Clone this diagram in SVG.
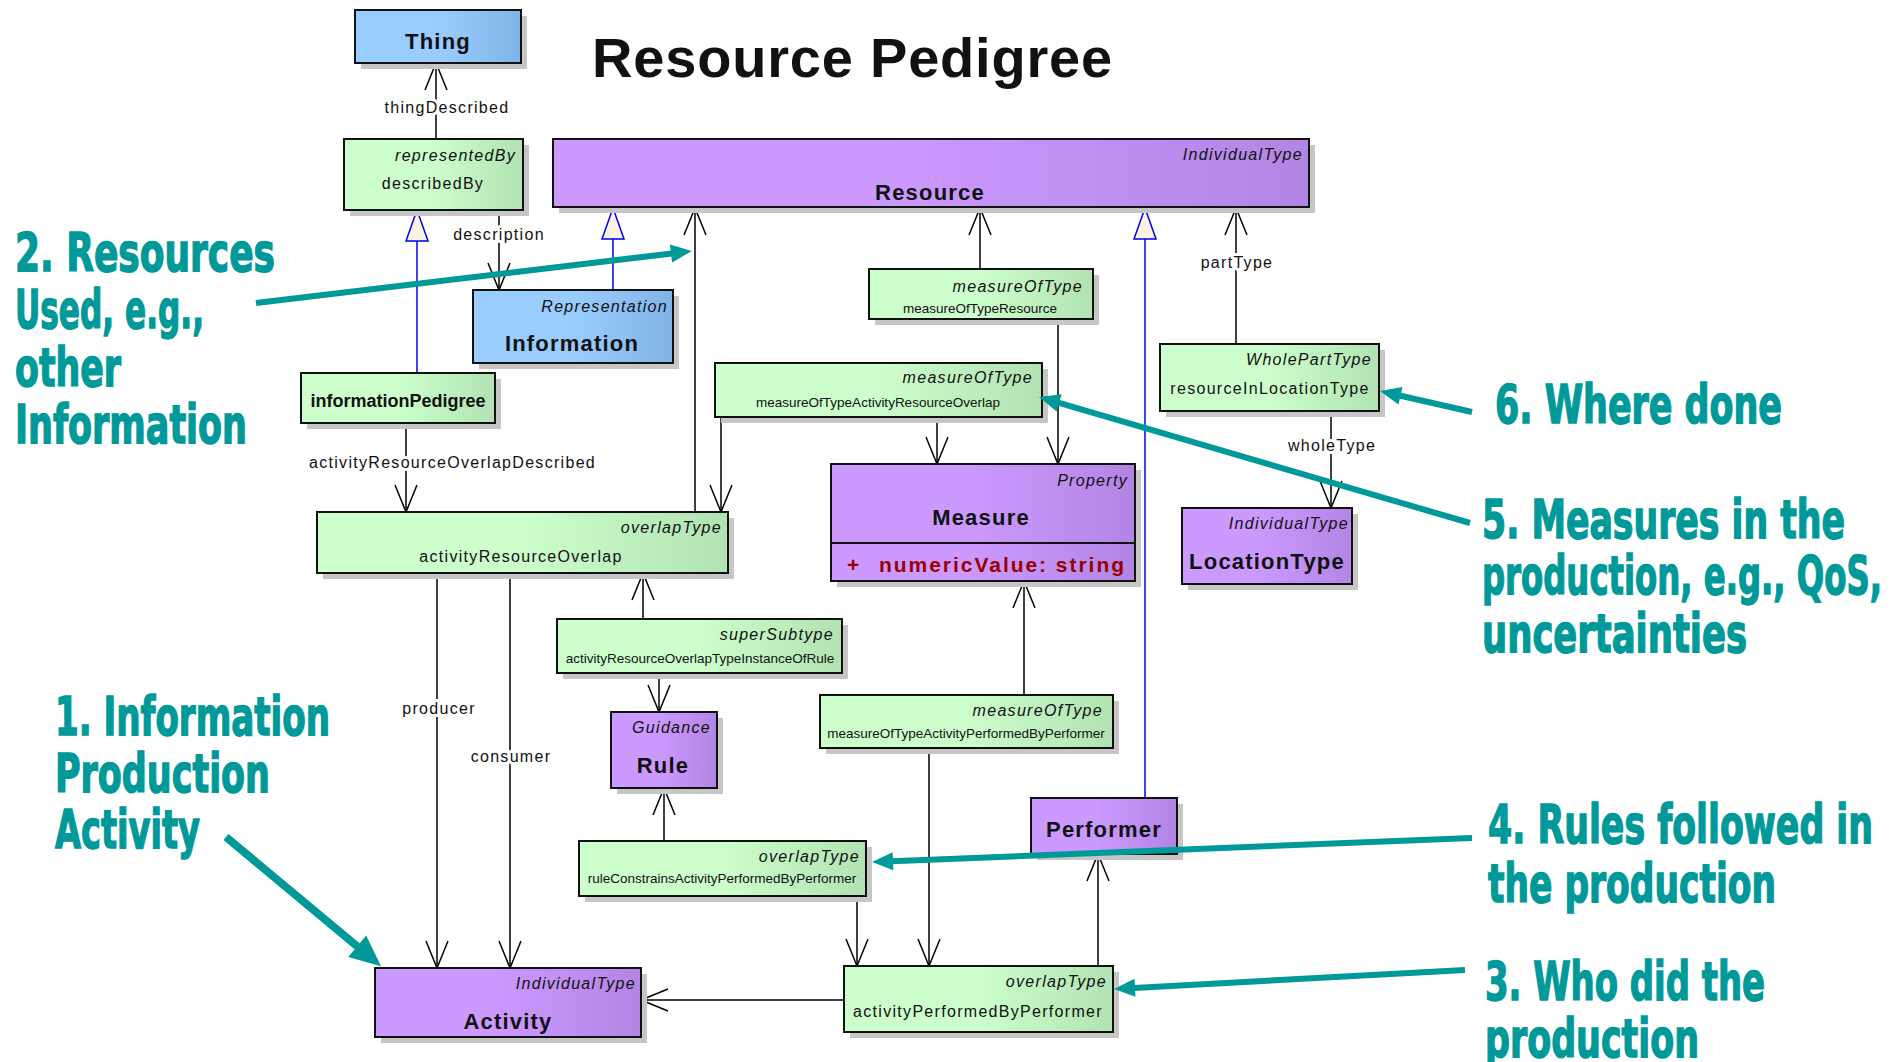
<svg xmlns="http://www.w3.org/2000/svg" width="1902" height="1062" viewBox="0 0 1902 1062">
<style>
text{font-family:"Liberation Sans",Arial,sans-serif;fill:#111}
.box{stroke:#111;stroke-width:2}
.sh{fill:#c6c6c6}
.st{font-style:italic;font-size:16px;letter-spacing:1.3px;text-anchor:end}
.nm{font-size:16px;letter-spacing:1.3px;text-anchor:middle}
.sm{font-size:13.5px;text-anchor:middle}
.bd{font-weight:bold;font-size:22px;letter-spacing:1.2px;text-anchor:middle}
.lbl{font-size:16px;letter-spacing:1.3px;text-anchor:middle;stroke:#fff;stroke-width:6px;paint-order:stroke;stroke-linejoin:round}
.co{fill:#009999;stroke:#009999;stroke-width:1.4px;font-family:"Liberation Sans Narrow","DejaVu Sans Condensed","Liberation Sans",sans-serif;font-weight:bold;font-size:53px}
.ln{stroke:#000;stroke-width:1.5;fill:none}
.gen{stroke:#0000ee;stroke-width:1.5;fill:none}
.tl{stroke:#009999;stroke-width:6;fill:none}
</style>
<defs>
<linearGradient id="gG"><stop offset="0" stop-color="#ccffcc"/><stop offset="0.5" stop-color="#ccffcc"/><stop offset="1" stop-color="#b2e2b2"/></linearGradient>
<linearGradient id="gP"><stop offset="0" stop-color="#cc99ff"/><stop offset="0.45" stop-color="#cc99ff"/><stop offset="1" stop-color="#b285e4"/></linearGradient>
<linearGradient id="gB"><stop offset="0" stop-color="#99ccff"/><stop offset="0.5" stop-color="#99ccff"/><stop offset="1" stop-color="#80b3e6"/></linearGradient>
<marker id="open" markerUnits="userSpaceOnUse" viewBox="-30 -14 32 28" refX="0" refY="0" markerWidth="32" markerHeight="28" orient="auto"><path d="M-27,-11 L0,0 L-27,11" fill="none" stroke="#000" stroke-width="1.5"/></marker>
<marker id="gen" markerUnits="userSpaceOnUse" viewBox="-34 -14 36 28" refX="0" refY="0" markerWidth="36" markerHeight="28" orient="auto"><path d="M-31,-11 L0,0 L-31,11 Z" fill="#fbf2e3" stroke="#0000ee" stroke-width="1.5"/></marker>
<marker id="tsm" markerUnits="userSpaceOnUse" viewBox="-2 -10 24 20" refX="0" refY="0" markerWidth="24" markerHeight="20" orient="auto"><path d="M-1,-9 L20,0 L-1,9 Z" fill="#009999"/></marker>
<marker id="tlg" markerUnits="userSpaceOnUse" viewBox="-2 -15 34 30" refX="0" refY="0" markerWidth="34" markerHeight="30" orient="auto"><path d="M-1,-14 L30,0 L-1,14 Z" fill="#009999"/></marker>
</defs>
<rect width="1902" height="1062" fill="#fff"/>

<text x="592" y="77" style="font-weight:bold;font-size:56px;letter-spacing:0.8px">Resource Pedigree</text>

<g id="connectors">
<line class="ln" x1="436" y1="139" x2="436" y2="63" marker-end="url(#open)"/>
<text class="lbl" x="447" y="113">thingDescribed</text>
<line class="ln" x1="499" y1="210" x2="499" y2="290" marker-end="url(#open)"/>
<text class="lbl" x="499" y="240">description</text>
<line class="gen" x1="417" y1="373" x2="417" y2="210" marker-end="url(#gen)"/>
<line class="gen" x1="613" y1="290" x2="613" y2="208" marker-end="url(#gen)"/>
<line class="ln" x1="695" y1="512" x2="695" y2="208" marker-end="url(#open)"/>
<line class="ln" x1="980" y1="269" x2="980" y2="208" marker-end="url(#open)"/>
<line class="ln" x1="1058" y1="319" x2="1058" y2="464" marker-end="url(#open)"/>
<line class="ln" x1="721" y1="417" x2="721" y2="512" marker-end="url(#open)"/>
<line class="ln" x1="937" y1="417" x2="937" y2="464" marker-end="url(#open)"/>
<line class="ln" x1="406" y1="423" x2="406" y2="512" marker-end="url(#open)"/>
<text class="lbl" x="309" y="468" style="text-anchor:start">activityResourceOverlapDescribed</text>
<line class="gen" x1="1145" y1="798" x2="1145" y2="208" marker-end="url(#gen)"/>
<line class="ln" x1="1236" y1="344" x2="1236" y2="208" marker-end="url(#open)"/>
<text class="lbl" x="1237" y="268">partType</text>
<line class="ln" x1="1331" y1="411" x2="1331" y2="508" marker-end="url(#open)"/>
<text class="lbl" x="1332" y="451">wholeType</text>
<line class="ln" x1="437" y1="573" x2="437" y2="968" marker-end="url(#open)"/>
<text class="lbl" x="439" y="714">producer</text>
<line class="ln" x1="510" y1="573" x2="510" y2="968" marker-end="url(#open)"/>
<text class="lbl" x="511" y="762">consumer</text>
<line class="ln" x1="643" y1="619" x2="643" y2="573" marker-end="url(#open)"/>
<line class="ln" x1="659" y1="673" x2="659" y2="712" marker-end="url(#open)"/>
<line class="ln" x1="664" y1="841" x2="664" y2="788" marker-end="url(#open)"/>
<line class="ln" x1="857" y1="896" x2="857" y2="966" marker-end="url(#open)"/>
<line class="ln" x1="1024" y1="695" x2="1024" y2="581" marker-end="url(#open)"/>
<line class="ln" x1="929" y1="748" x2="929" y2="966" marker-end="url(#open)"/>
<line class="ln" x1="1098" y1="966" x2="1098" y2="854" marker-end="url(#open)"/>
<line class="ln" x1="844" y1="1000" x2="641" y2="1000" marker-end="url(#open)"/>
</g>

<g id="Thing">
<rect class="sh" x="361" y="16" width="166" height="53"/>
<rect class="box" x="355" y="10" width="166" height="53" fill="url(#gB)"/>
<text class="bd" x="438" y="49">Thing</text>
</g>
<g id="describedBy">
<rect class="sh" x="350" y="145" width="179" height="71"/>
<rect class="box" x="344" y="139" width="179" height="71" fill="url(#gG)"/>
<text class="st" x="516" y="161">representedBy</text>
<text class="nm" x="433" y="189">describedBy</text>
</g>
<g id="Resource">
<rect class="sh" x="559" y="145" width="756" height="68"/>
<rect class="box" x="553" y="139" width="756" height="68" fill="url(#gP)"/>
<text class="st" x="1303" y="160">IndividualType</text>
<text class="bd" x="930" y="200">Resource</text>
</g>
<g id="Information">
<rect class="sh" x="479" y="296" width="200" height="73"/>
<rect class="box" x="473" y="290" width="200" height="73" fill="url(#gB)"/>
<text class="st" x="668" y="312">Representation</text>
<text class="bd" x="572" y="351">Information</text>
</g>
<g id="informationPedigree">
<rect class="sh" x="307" y="379" width="194" height="50"/>
<rect class="box" x="301" y="373" width="194" height="50" fill="url(#gG)"/>
<text x="398" y="407" style="font-weight:bold;font-size:18px;text-anchor:middle">informationPedigree</text>
</g>
<g id="measureOfTypeResource">
<rect class="sh" x="875" y="275" width="224" height="50"/>
<rect class="box" x="869" y="269" width="224" height="50" fill="url(#gG)"/>
<text class="st" x="1083" y="292">measureOfType</text>
<text class="sm" x="980" y="313">measureOfTypeResource</text>
</g>
<g id="measureOfTypeActivityResourceOverlap">
<rect class="sh" x="721" y="369" width="327" height="54"/>
<rect class="box" x="715" y="363" width="327" height="54" fill="url(#gG)"/>
<text class="st" x="1033" y="383">measureOfType</text>
<text class="sm" x="878" y="407">measureOfTypeActivityResourceOverlap</text>
</g>
<g id="resourceInLocationType">
<rect class="sh" x="1166" y="350" width="219" height="67"/>
<rect class="box" x="1160" y="344" width="219" height="67" fill="url(#gG)"/>
<text class="st" x="1372" y="365">WholePartType</text>
<text class="nm" x="1270" y="394">resourceInLocationType</text>
</g>
<g id="Measure">
<rect class="sh" x="837" y="470" width="304" height="117"/>
<rect class="box" x="831" y="464" width="304" height="117" fill="url(#gP)"/>
<line x1="831" y1="543" x2="1135" y2="543" stroke="#111" stroke-width="2"/>
<text class="st" x="1128" y="486">Property</text>
<text class="bd" x="981" y="525">Measure</text>
<text x="847" y="572" style="font-weight:bold;font-size:21px;fill:#990000">+</text>
<text x="879" y="572" textLength="245" style="font-weight:bold;font-size:21px;fill:#990000">numericValue: string</text>
</g>
<g id="LocationType">
<rect class="sh" x="1188" y="514" width="170" height="76"/>
<rect class="box" x="1182" y="508" width="170" height="76" fill="url(#gP)"/>
<text class="st" x="1349" y="529">IndividualType</text>
<text class="bd" x="1267" y="569">LocationType</text>
</g>
<g id="activityResourceOverlap">
<rect class="sh" x="323" y="518" width="411" height="61"/>
<rect class="box" x="317" y="512" width="411" height="61" fill="url(#gG)"/>
<text class="st" x="722" y="533">overlapType</text>
<text class="nm" x="521" y="562">activityResourceOverlap</text>
</g>
<g id="activityResourceOverlapTypeInstanceOfRule">
<rect class="sh" x="563" y="625" width="285" height="54"/>
<rect class="box" x="557" y="619" width="285" height="54" fill="url(#gG)"/>
<text class="st" x="834" y="640">superSubtype</text>
<text class="sm" x="700" y="663">activityResourceOverlapTypeInstanceOfRule</text>
</g>
<g id="Rule">
<rect class="sh" x="617" y="718" width="106" height="76"/>
<rect class="box" x="611" y="712" width="106" height="76" fill="url(#gP)"/>
<text class="st" x="711" y="733">Guidance</text>
<text class="bd" x="663" y="773">Rule</text>
</g>
<g id="measureOfTypeActivityPerformedByPerformer">
<rect class="sh" x="826" y="701" width="293" height="53"/>
<rect class="box" x="820" y="695" width="293" height="53" fill="url(#gG)"/>
<text class="st" x="1103" y="716">measureOfType</text>
<text class="sm" x="966" y="738">measureOfTypeActivityPerformedByPerformer</text>
</g>
<g id="Performer">
<rect class="sh" x="1037" y="804" width="146" height="56"/>
<rect class="box" x="1031" y="798" width="146" height="56" fill="url(#gP)"/>
<text class="bd" x="1104" y="837">Performer</text>
</g>
<g id="ruleConstrainsActivityPerformedByPerformer">
<rect class="sh" x="585" y="847" width="287" height="55"/>
<rect class="box" x="579" y="841" width="287" height="55" fill="url(#gG)"/>
<text class="st" x="860" y="862">overlapType</text>
<text class="sm" x="722" y="883">ruleConstrainsActivityPerformedByPerformer</text>
</g>
<g id="activityPerformedByPerformer">
<rect class="sh" x="850" y="972" width="269" height="66"/>
<rect class="box" x="844" y="966" width="269" height="66" fill="url(#gG)"/>
<text class="st" x="1107" y="987">overlapType</text>
<text class="nm" x="978" y="1017">activityPerformedByPerformer</text>
</g>
<g id="Activity">
<rect class="sh" x="381" y="974" width="266" height="69"/>
<rect class="box" x="375" y="968" width="266" height="69" fill="url(#gP)"/>
<text class="st" x="636" y="989">IndividualType</text>
<text class="bd" x="508" y="1029">Activity</text>
</g>

<g id="callouts">
<line class="tl" x1="226" y1="837" x2="358" y2="947" style="stroke-width:8" marker-end="url(#tlg)"/>
<line class="tl" x1="256" y1="303" x2="672" y2="253.4" marker-end="url(#tsm)"/>
<line class="tl" x1="1465" y1="970" x2="1134" y2="987.9" marker-end="url(#tsm)"/>
<line class="tl" x1="1472" y1="838" x2="892" y2="861.2" marker-end="url(#tsm)"/>
<line class="tl" x1="1470" y1="523" x2="1058.2" y2="402.6" marker-end="url(#tsm)"/>
<line class="tl" x1="1472" y1="412" x2="1399.5" y2="395.5" marker-end="url(#tsm)"/>
<text class="co" x="15" y="271" textLength="260" lengthAdjust="spacingAndGlyphs">2. Resources</text>
<text class="co" x="15" y="328" textLength="189" lengthAdjust="spacingAndGlyphs">Used, e.g.,</text>
<text class="co" x="15" y="386" textLength="106" lengthAdjust="spacingAndGlyphs">other</text>
<text class="co" x="15" y="443" textLength="232" lengthAdjust="spacingAndGlyphs">Information</text>
<text class="co" x="55" y="735" textLength="275" lengthAdjust="spacingAndGlyphs">1. Information</text>
<text class="co" x="55" y="792" textLength="215" lengthAdjust="spacingAndGlyphs">Production</text>
<text class="co" x="55" y="848" textLength="145" lengthAdjust="spacingAndGlyphs">Activity</text>
<text class="co" x="1495" y="423" textLength="287" lengthAdjust="spacingAndGlyphs">6. Where done</text>
<text class="co" x="1482" y="538" textLength="363" lengthAdjust="spacingAndGlyphs">5. Measures in the</text>
<text class="co" x="1482" y="594" textLength="400" lengthAdjust="spacingAndGlyphs">production, e.g., QoS,</text>
<text class="co" x="1482" y="652" textLength="265" lengthAdjust="spacingAndGlyphs">uncertainties</text>
<text class="co" x="1488" y="843" textLength="385" lengthAdjust="spacingAndGlyphs">4. Rules followed in</text>
<text class="co" x="1488" y="902" textLength="288" lengthAdjust="spacingAndGlyphs">the production</text>
<text class="co" x="1485" y="1000" textLength="280" lengthAdjust="spacingAndGlyphs">3. Who did the</text>
<text class="co" x="1485" y="1057" textLength="214" lengthAdjust="spacingAndGlyphs">production</text>
</g>
</svg>
